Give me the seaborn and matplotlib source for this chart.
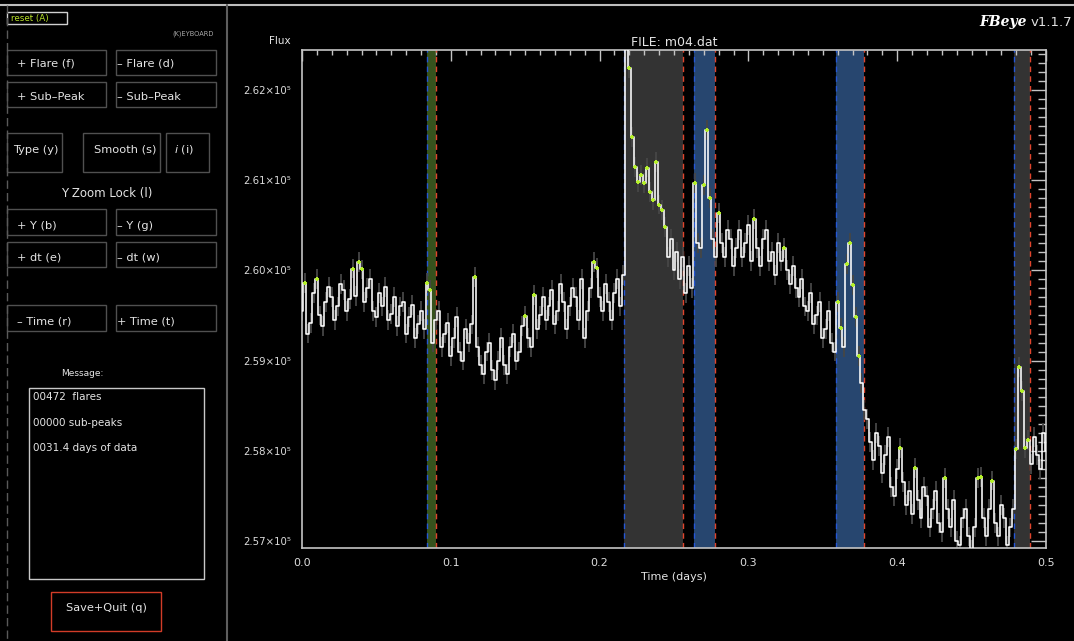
import numpy as np
import pandas as pd
import matplotlib
matplotlib.use("Agg")
import matplotlib.pyplot as plt
from matplotlib.patches import Rectangle
from matplotlib.ticker import MultipleLocator, FuncFormatter
import seaborn as sns

# ---------------- light curve (m04.dat, first half day) ----------------
TIME_STEP = 0.002  # days between samples
FLUX = [
    259550, 259860, 259300, 259420, 259750, 259900, 259500, 259380, 259650, 259820,
    259700, 259450, 259600, 259850, 259780, 259550, 259680, 260020, 259720, 260090,
    260010, 259650, 259800, 259900, 259550, 259480, 259750, 259600, 259820, 259450,
    259520, 259700, 259380, 259600, 259650, 259300, 259480, 259620, 259250, 259400,
    259550, 259350, 259860, 259780, 259200, 259450, 259550, 259150, 259300, 259420,
    259050, 259250, 259480, 259100, 259000, 259350, 259200, 259400, 259930, 259150,
    258950, 258850, 259100, 259200, 258900, 258780, 259000, 259250, 258950, 258850,
    259150, 259300, 259000, 259100, 259380, 259490, 259250, 259150, 259730, 259350,
    259500, 259700, 259450, 259600, 259780, 259400, 259550, 259850, 259650, 259350,
    259600, 259800, 259700, 259450, 259900, 259250, 259550, 259800, 260090, 260030,
    259700, 259550, 259850, 259650, 259450, 259750, 259900, 259600, 259950, 262600,
    262240, 261480, 261150, 260980, 261060, 260970, 261140, 260870, 260780, 261200,
    260730, 260670, 260480, 260150, 260350, 260000, 260200, 259900, 260150, 259750,
    260050, 259800, 260970, 260300, 260250, 260950, 261560, 260800, 260350, 260150,
    260640, 260300, 260150, 260450, 260350, 260050, 260250, 260450, 260150, 260300,
    260500, 260100, 260570, 260250, 260050, 260350, 260450, 260100, 260200, 259950,
    260300, 260100, 260250, 260000, 259850, 260050, 259800, 259700, 259900, 259600,
    259550, 259750, 259400, 259500, 259650, 259250, 259350, 259550, 259200, 259100,
    259650, 259360, 259150, 260070, 260300, 259840, 259480, 259050, 258750, 258450,
    258350, 258100, 257900, 258200, 258050, 257750, 257950, 258150, 257600, 257500,
    257800, 258030, 257650, 257400, 257550, 257300, 257810, 257450, 257250, 257600,
    257500, 257150, 257350, 257550, 257200, 257100, 257700, 257350, 257150, 257450,
    257000, 256950, 257250, 257350, 257050, 256900, 257150, 257700, 257710, 257250,
    257050, 257350, 257670, 257200, 257050, 257400, 257250, 256950, 257150, 257350,
    258020, 258930, 258660, 258030, 258120, 257850, 258150, 257950, 257800, 258200,
    258000,
]
FLUX_ERR = 110

# samples flagged as flare points
FLARE_POINTS = [1, 5, 17, 19, 20, 42, 43, 58, 75, 78, 98, 99,
                109, 110, 111, 112, 113, 114, 115, 116, 117, 118, 119, 120, 121, 122,
                132, 135, 136, 137, 140, 152, 162,
                180, 181, 183, 184, 185, 186, 187,
                201, 206, 216, 227, 228, 232,
                240, 241, 242, 243, 244]

# identified flare windows (days)
REGION_START = [0.0840, 0.2164, 0.2634, 0.3589, 0.4785]
REGION_END = [0.0901, 0.2560, 0.2775, 0.3777, 0.4892]
REGION_COLOR = ["#36521d", "#333333", "#27466f", "#27466f", "#333333"]

X_TICKS = [0.0, 0.1, 0.2, 0.3, 0.4, 0.5]
Y_TICKS = [257000, 258000, 259000, 260000, 261000, 262000]

flux = np.array(FLUX, dtype=float)
time = TIME_STEP * np.arange(len(flux))
lc = pd.DataFrame({"time": time, "flux": flux})
flares = lc.iloc[FLARE_POINTS]

# ---------------- figure ----------------
sns.set_style("dark")
plt.rcParams["font.family"] = ["DejaVu Sans"]

W, H = 1074, 641
fig = plt.figure(figsize=(W / 100, H / 100), dpi=100, facecolor="black")

# pixel-space canvas for the control panel
ov = fig.add_axes([0, 0, 1, 1], zorder=-1)
ov.set_xlim(0, W)
ov.set_ylim(H, 0)
ov.axis("off")

TXT = "#e4e4e4"
BTN = "#505050"

ov.plot([0, W], [5, 5], color="#bdbdbd", lw=1.5)
ov.plot([7, 7], [5, H], color="#5a5a5a", lw=1, ls=(0, (6, 3)))
ov.plot([227, 227], [5, H], color="#5e5e5e", lw=1.5)


def button(x0, y0, x1, y1, label=None, tx=None, ty=None, ec=BTN, color=TXT,
           size=8.2, ha="left"):
    ov.add_patch(Rectangle((x0, y0), x1 - x0, y1 - y0, fill=False, ec=ec, lw=1))
    if label is not None:
        ov.text(tx, ty, label, color=color, fontsize=size, ha=ha, va="center")


button(7, 12, 67, 24, "reset (A)", 11, 18, ec="#d0d0d0", color="#b8e02a", size=6.3)
ov.text(214, 34, "(K)EYBOARD", color="#a8a8a8", fontsize=4.8, ha="right", va="center")

button(7, 50, 106, 75, "+ Flare (f)", 17, 63)
button(116, 50, 216, 75, "\u2013 Flare (d)", 117, 63)
button(7, 82, 106, 107, "+ Sub\u2013Peak", 17, 97)
button(116, 82, 216, 107, "\u2013 Sub\u2013Peak", 117, 97)

button(7, 133, 62, 172, "Type (y)", 13, 150)
button(83, 133, 160, 172, "Smooth (s)", 94, 150)
button(166, 133, 209, 172, r"$\mathit{i}$ (i)", 174, 150)

ov.text(107, 193, "Y Zoom Lock (l)", color=TXT, fontsize=8.5, ha="center", va="center")

button(7, 209, 106, 235, "+ Y (b)", 17, 226)
button(116, 209, 216, 235, "\u2013 Y (g)", 117, 226)
button(7, 242, 106, 267, "+ dt (e)", 17, 258)
button(116, 242, 216, 267, "\u2013 dt (w)", 117, 258)

button(7, 305, 106, 331, "\u2013 Time (r)", 17, 322)
button(116, 305, 216, 331, "+ Time (t)", 117, 322)

ov.text(82, 373, "Message:", color=TXT, fontsize=6.5, ha="center", va="center")
button(29, 388, 204, 579, ec="#c8c8c8")
ov.text(33, 397, "00472  flares", color=TXT, fontsize=7.5, va="center")
ov.text(33, 423, "00000 sub-peaks", color=TXT, fontsize=7.5, va="center")
ov.text(33, 448, "0031.4 days of data", color=TXT, fontsize=7.5, va="center")

button(51, 592, 161, 631, "Save+Quit (q)", 106, 608, ec="#d23c28", ha="center")

ov.text(280, 41, "Flux", color=TXT, fontsize=7.5, ha="center", va="center")
ov.text(1027, 22, "FBeye", color="white", fontsize=10, ha="right", va="center",
        family="DejaVu Serif", style="italic", weight="bold")
ov.text(1031, 22, "v1.1.7", color="#e0e0e0", fontsize=9.5, ha="left", va="center")

# ---------------- light-curve axes ----------------
x0, x1, y0, y1 = 302, 1046, 50, 548
ax = fig.add_axes([x0 / W, 1 - y1 / H, (x1 - x0) / W, (y1 - y0) / H])
ax.set_facecolor("black")

for s, e, c in zip(REGION_START, REGION_END, REGION_COLOR):
    ax.axvspan(s, e, color=c, lw=0, zorder=0)
    ax.axvline(s, color="#2456d6", lw=1, ls=(0, (4, 3)), zorder=1)
    ax.axvline(e, color="#e0442c", lw=1, ls=(0, (4, 3)), zorder=1)

ax.vlines(lc["time"], lc["flux"] - FLUX_ERR, lc["flux"] + FLUX_ERR,
          color="#464646", lw=1.3, zorder=2)
sns.lineplot(data=lc, x="time", y="flux", ax=ax, color="white", lw=1.15,
             drawstyle="steps-mid", estimator=None, zorder=3)
sns.scatterplot(data=flares, x="time", y="flux", ax=ax, color="#b4f02a",
                marker="P", s=12, linewidth=0, zorder=4)

ax.set_xlim(0, 0.5)
ax.set_ylim(256922, 262443)
ax.set_xticks(X_TICKS)
ax.set_yticks(Y_TICKS)
ax.xaxis.set_minor_locator(MultipleLocator(0.01))
ax.yaxis.set_minor_locator(MultipleLocator(100))
ax.xaxis.set_major_formatter(FuncFormatter(lambda v, p: f"{v:.1f}"))
ax.yaxis.set_major_formatter(FuncFormatter(lambda v, p: f"{v / 1e5:.2f}\u00d710\u2075"))

GRAY = "#c4c4c4"
ax.tick_params(which="both", direction="in", top=True, right=True,
               colors=GRAY, labelcolor="#dcdcdc", width=1)
ax.tick_params(axis="x", which="major", length=8, pad=7, labelsize=8)
ax.tick_params(axis="x", which="minor", length=3.6)
ax.tick_params(axis="y", which="major", length=10.5, pad=8, labelsize=7.3)
ax.tick_params(axis="y", which="minor", length=5.8)
for sp in ax.spines.values():
    sp.set_color(GRAY)
    sp.set_linewidth(1.2)
ax.grid(False)

ax.set_title("FILE: m04.dat", color="#e4e4e4", fontsize=9, pad=3)
ax.set_xlabel("Time (days)", color="#e4e4e4", fontsize=8, labelpad=3)
ax.set_ylabel("")

fig.savefig("out.png", dpi=100, facecolor="black")
